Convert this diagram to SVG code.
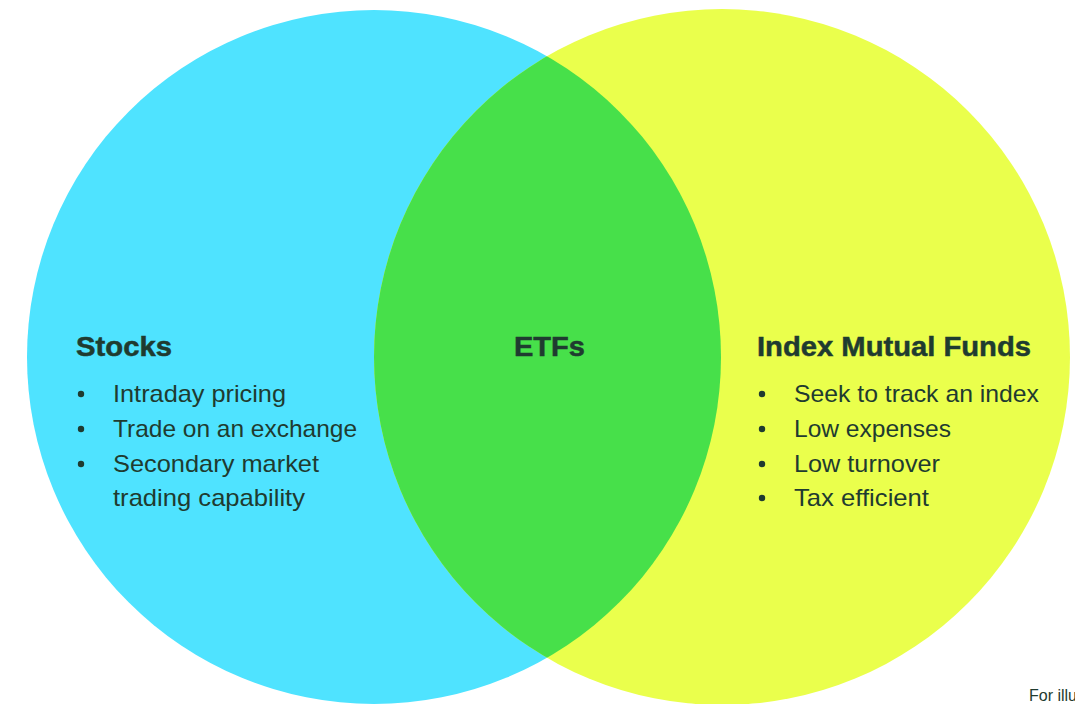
<svg xmlns="http://www.w3.org/2000/svg" width="1075" height="704" viewBox="0 0 1075 704">
<style>
.h{font-family:"Liberation Sans",Arial,sans-serif;font-weight:bold;font-size:28px;fill:#1f3b30;stroke:#1f3b30;stroke-width:0.5px}
.t{font-family:"Liberation Sans",Arial,sans-serif;font-size:24px;fill:#1f3b30}
.b{fill:#1f3b30}
.f{font-family:"Liberation Sans",Arial,sans-serif;font-size:16px;fill:#1f3b30}
</style>
<defs>
<clipPath id="lc"><circle cx="374" cy="357" r="347"/></clipPath>
</defs>
<rect width="1075" height="704" fill="#ffffff"/>
<g id="stocks">
<circle cx="374" cy="357" r="347" fill="#4fe3ff"/>
</g>
<g id="index-mutual-funds">
<circle cx="722" cy="357" r="348" fill="#eaff4c"/>
</g>
<g id="etfs">
<circle cx="722" cy="357" r="348" fill="#47e04a" clip-path="url(#lc)"/>
<text class="h" x="514" y="356" textLength="71" lengthAdjust="spacingAndGlyphs">ETFs</text>
</g>
<g id="stocks-text">
<text class="h" x="76" y="356" textLength="96" lengthAdjust="spacingAndGlyphs">Stocks</text>
<circle class="b" cx="81" cy="394" r="3.2"/>
<circle class="b" cx="81" cy="429" r="3.2"/>
<circle class="b" cx="81" cy="464" r="3.2"/>
<text class="t" x="113" y="402" textLength="173" lengthAdjust="spacingAndGlyphs">Intraday pricing</text>
<text class="t" x="113" y="437" textLength="244" lengthAdjust="spacingAndGlyphs">Trade on an exchange</text>
<text class="t" x="113" y="472" textLength="206" lengthAdjust="spacingAndGlyphs">Secondary market</text>
<text class="t" x="113" y="506" textLength="192" lengthAdjust="spacingAndGlyphs">trading capability</text>
</g>
<g id="imf-text">
<text class="h" x="757" y="356" textLength="274" lengthAdjust="spacingAndGlyphs">Index Mutual Funds</text>
<circle class="b" cx="762" cy="394" r="3.2"/>
<circle class="b" cx="762" cy="429" r="3.2"/>
<circle class="b" cx="762" cy="464" r="3.2"/>
<circle class="b" cx="762" cy="498" r="3.2"/>
<text class="t" x="794" y="402" textLength="245" lengthAdjust="spacingAndGlyphs">Seek to track an index</text>
<text class="t" x="794" y="437" textLength="157" lengthAdjust="spacingAndGlyphs">Low expenses</text>
<text class="t" x="794" y="472" textLength="146" lengthAdjust="spacingAndGlyphs">Low turnover</text>
<text class="t" x="794" y="506" textLength="135" lengthAdjust="spacingAndGlyphs">Tax efficient</text>
</g>
<g id="connectors"></g>
<text class="f" x="1029" y="701">For illu</text>
</svg>
